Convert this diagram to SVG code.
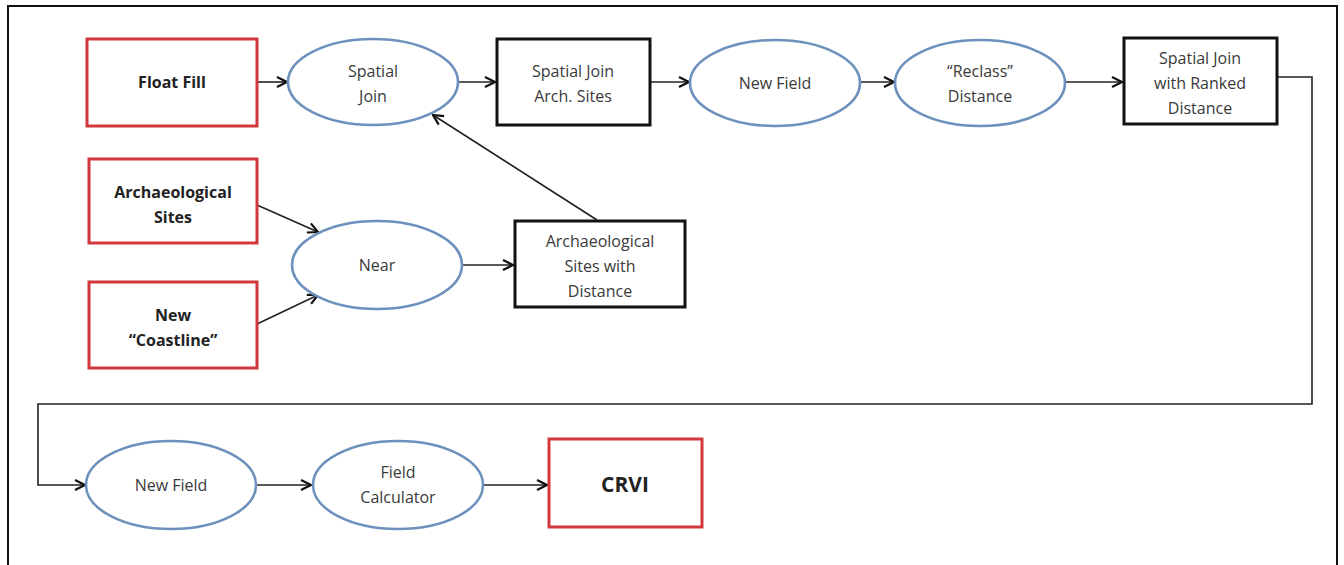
<svg xmlns="http://www.w3.org/2000/svg" width="1344" height="565" viewBox="0 0 1344 565">
<defs>
<marker id="arr" viewBox="0 0 12 12" refX="11" refY="6" markerWidth="12" markerHeight="12" markerUnits="userSpaceOnUse" orient="auto">
<path d="M1,1 L11,6 L1,11" fill="none" stroke="#111" stroke-width="2.2"/>
</marker>
<style>
.red{fill:#fff;stroke:#d2383b;stroke-width:3}
.blk{fill:#fff;stroke:#111;stroke-width:3}
.ell{fill:#fff;stroke:#6d91bd;stroke-width:2.6}
.t{font-family:"Open Sans","Noto Sans",sans-serif;font-size:16px;fill:#3a3a3a;text-anchor:middle}
.b{font-family:"Open Sans","Noto Sans",sans-serif;font-size:16px;font-weight:bold;fill:#222;text-anchor:middle}
.c{fill:none;stroke:#222;stroke-width:1.6}
</style>
</defs>
<rect x="0" y="0" width="1344" height="565" fill="#fff"/>
<rect x="8" y="6" width="1329" height="620" fill="none" stroke="#111" stroke-width="2"/>
<g id="connectors">
<line class="c" x1="257" y1="82" x2="287" y2="82" marker-end="url(#arr)"/>
<line class="c" x1="458" y1="82" x2="495" y2="82" marker-end="url(#arr)"/>
<line class="c" x1="651" y1="82" x2="689" y2="82" marker-end="url(#arr)"/>
<line class="c" x1="860" y1="82" x2="894" y2="82" marker-end="url(#arr)"/>
<line class="c" x1="1065" y1="82" x2="1122" y2="82" marker-end="url(#arr)"/>
<polyline class="c" points="1278,77 1312,77 1312,404 38,404 38,485 85,485" marker-end="url(#arr)"/>
<line class="c" x1="597" y1="220" x2="433" y2="115" marker-end="url(#arr)"/>
<line class="c" x1="257" y1="205" x2="318" y2="232" marker-end="url(#arr)"/>
<line class="c" x1="257" y1="324" x2="318" y2="295" marker-end="url(#arr)"/>
<line class="c" x1="462" y1="265" x2="513" y2="265" marker-end="url(#arr)"/>
<line class="c" x1="256" y1="485" x2="311" y2="485" marker-end="url(#arr)"/>
<line class="c" x1="483" y1="485" x2="547" y2="485" marker-end="url(#arr)"/>
</g>
<g id="float-fill"><rect class="red" x="87" y="39" width="170" height="87"/><text class="b" x="172" y="88">Float Fill</text></g>
<g id="spatial-join"><ellipse class="ell" cx="373" cy="82" rx="85" ry="43"/><text class="t" x="373" y="77">Spatial</text><text class="t" x="373" y="102">Join</text></g>
<g id="sj-arch-sites"><rect class="blk" x="497" y="39" width="153" height="86"/><text class="t" x="573" y="77">Spatial Join</text><text class="t" x="573" y="102">Arch. Sites</text></g>
<g id="new-field-1"><ellipse class="ell" cx="775" cy="83" rx="85" ry="43"/><text class="t" x="775" y="89">New Field</text></g>
<g id="reclass"><ellipse class="ell" cx="980" cy="83" rx="85" ry="43"/><text class="t" x="980" y="77">“Reclass”</text><text class="t" x="980" y="102">Distance</text></g>
<g id="ranked"><rect class="blk" x="1124" y="38" width="153" height="86"/><text class="t" x="1200" y="64">Spatial Join</text><text class="t" x="1200" y="89">with Ranked</text><text class="t" x="1200" y="114">Distance</text></g>
<g id="arch-sites"><rect class="red" x="89" y="159" width="168" height="84"/><text class="b" x="173" y="198">Archaeological</text><text class="b" x="173" y="223">Sites</text></g>
<g id="coastline"><rect class="red" x="89" y="282" width="168" height="86"/><text class="b" x="173" y="321">New</text><text class="b" x="173" y="346">“Coastline”</text></g>
<g id="near"><ellipse class="ell" cx="377" cy="265" rx="85" ry="44"/><text class="t" x="377" y="271">Near</text></g>
<g id="as-distance"><rect class="blk" x="515" y="221" width="170" height="86"/><text class="t" x="600" y="247">Archaeological</text><text class="t" x="600" y="272">Sites with</text><text class="t" x="600" y="297">Distance</text></g>
<g id="new-field-2"><ellipse class="ell" cx="171" cy="485" rx="85" ry="44"/><text class="t" x="171" y="491">New Field</text></g>
<g id="field-calc"><ellipse class="ell" cx="398" cy="485" rx="85" ry="44"/><text class="t" x="398" y="478">Field</text><text class="t" x="398" y="503">Calculator</text></g>
<g id="crvi"><rect class="red" x="549" y="439" width="153" height="88"/><text class="b" x="625" y="492" style="font-size:21px">CRVI</text></g>
</svg>
